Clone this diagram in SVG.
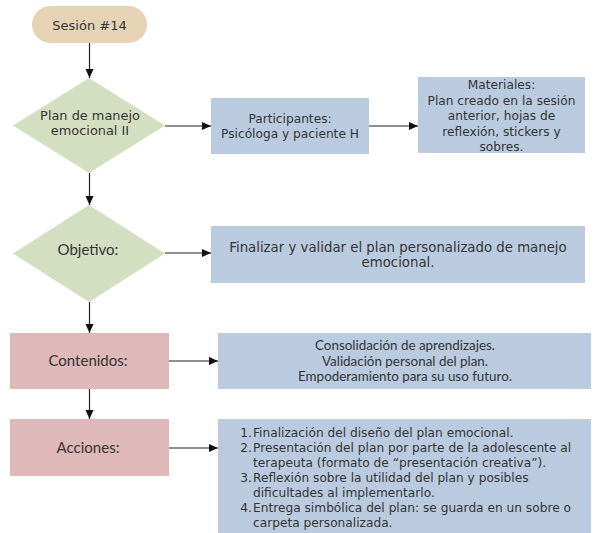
<svg xmlns="http://www.w3.org/2000/svg" width="594" height="533" viewBox="0 0 594 533">
  <defs>
    <marker id="arrow" markerUnits="userSpaceOnUse" markerWidth="9" markerHeight="9" viewBox="0 0 9 9" refX="9" refY="4.5" orient="auto">
      <path d="M0,0.5 L9,4.5 L0,8.5 Z" fill="#111"/>
    </marker>
    <style>
      .start { fill: #E6D3B6; }
      .decision { fill: #D4DFC1; }
      .info { fill: #BACBDF; }
      .topic { fill: #DFB8B9; }
      .t { font-family: "DejaVu Sans", Verdana, sans-serif; font-size: 12.2px; fill: #333; }
      .tc { text-anchor: middle; }
      .lato { font-family: Lato, "Liberation Sans", sans-serif; fill: #333; }
      .edge { stroke: #222; stroke-width: 1.2; fill: none; marker-end: url(#arrow); }
    </style>
  </defs>

  <rect width="594" height="533" fill="#fff"/>

  <!-- connectors -->
  <g id="connectors">
    <line class="edge" x1="89.5" y1="43" x2="89.5" y2="78"/>
    <line class="edge" x1="165" y1="126" x2="211" y2="126"/>
    <line class="edge" x1="369" y1="126" x2="418" y2="126"/>
    <line class="edge" x1="89.5" y1="173" x2="89.5" y2="205"/>
    <line class="edge" x1="165" y1="253" x2="211" y2="253"/>
    <line class="edge" x1="89.5" y1="302" x2="89.5" y2="333"/>
    <line class="edge" x1="169" y1="361" x2="218" y2="361"/>
    <line class="edge" x1="89.5" y1="389" x2="89.5" y2="419"/>
    <line class="edge" x1="169" y1="448" x2="218" y2="448"/>
  </g>

  <g id="sesion">
    <rect class="start" x="32" y="6" width="115" height="37" rx="18.5"/>
    <text class="t tc" x="89.5" y="29.5" style="font-size:13px">Sesión #14</text>
  </g>

  <g id="plan">
    <polygon class="decision" points="89,78 165,125.5 89,173 13,125.5"/>
    <text class="t tc" x="90" y="119.5" style="font-size:12.9px">Plan de manejo</text>
    <text class="t tc" x="90" y="134.5" style="font-size:12.9px">emocional II</text>
  </g>

  <g id="participantes">
    <rect class="info" x="211" y="98" width="158" height="56"/>
    <text class="t tc" x="290" y="122.5">Participantes:</text>
    <text class="t tc" x="290" y="137.5">Psicóloga y paciente H</text>
  </g>

  <g id="materiales">
    <rect class="info" x="418" y="77" width="167" height="76"/>
    <text class="t tc" x="501.5" y="89">Materiales:</text>
    <text class="t tc" x="501.5" y="104.5">Plan creado en la sesión</text>
    <text class="t tc" x="501.5" y="120">anterior, hojas de</text>
    <text class="t tc" x="501.5" y="135.5">reflexión, stickers y</text>
    <text class="t tc" x="501.5" y="151">sobres.</text>
  </g>

  <g id="objetivo">
    <polygon class="decision" points="89,205 165,253.5 89,302 13,253.5"/>
    <text class="lato tc" x="88" y="255" font-size="15">Objetivo:</text>
  </g>

  <g id="objetivo-detalle">
    <rect class="info" x="211" y="226" width="374" height="57"/>
    <text class="t tc" x="398" y="252" style="font-size:13.3px">Finalizar y validar el plan personalizado de manejo</text>
    <text class="t tc" x="398" y="267" style="font-size:13.3px">emocional.</text>
  </g>

  <g id="contenidos">
    <rect class="topic" x="10" y="333" width="159" height="56"/>
    <text class="lato tc" x="88" y="366" font-size="15">Contenidos:</text>
  </g>

  <g id="contenidos-detalle">
    <rect class="info" x="218" y="333" width="373" height="56"/>
    <text class="lato tc" x="405" y="350" font-size="13.4">Consolidación de aprendizajes.</text>
    <text class="lato tc" x="405" y="365.5" font-size="13.4">Validación personal del plan.</text>
    <text class="lato tc" x="405" y="381" font-size="13.4">Empoderamiento para su uso futuro.</text>
  </g>

  <g id="acciones">
    <rect class="topic" x="10" y="419" width="159" height="57"/>
    <text class="lato tc" x="88" y="453" font-size="15">Acciones:</text>
  </g>

  <g id="acciones-detalle">
    <rect class="info" x="218" y="419" width="373" height="114"/>
    <g class="t" text-anchor="end">
      <text x="252" y="437">1.</text>
      <text x="252" y="452">2.</text>
      <text x="252" y="482">3.</text>
      <text x="252" y="512">4.</text>
    </g>
    <g class="t">
      <text x="253" y="437">Finalización del diseño del plan emocional.</text>
      <text x="253" y="452">Presentación del plan por parte de la adolescente al</text>
      <text x="253" y="467">terapeuta (formato de “presentación creativa”).</text>
      <text x="253" y="482">Reflexión sobre la utilidad del plan y posibles</text>
      <text x="253" y="497">dificultades al implementarlo.</text>
      <text x="253" y="512">Entrega simbólica del plan: se guarda en un sobre o</text>
      <text x="253" y="527">carpeta personalizada.</text>
    </g>
  </g>
</svg>
